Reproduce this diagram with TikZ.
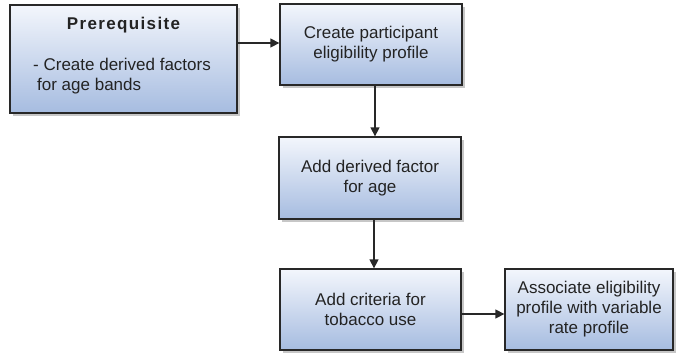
\documentclass[tikz,border=0pt]{standalone}
\usepackage{fontspec}
\setmainfont{Liberation Sans}
\newfontfamily\titlefont{Liberation Sans}[LetterSpace=8]
\usetikzlibrary{arrows.meta,shadows}
\definecolor{boxtop}{RGB}{243,246,252}
\definecolor{boxbot}{RGB}{166,188,224}
\definecolor{edge}{RGB}{40,40,40}
\definecolor{ink}{RGB}{35,35,35}

\begin{document}
\begin{tikzpicture}[x=1pt,y=-1pt,>={Triangle[length=9pt,width=9pt]},
  stepbox/.style={draw=edge,line width=1.3pt,top color=boxtop,bottom color=boxbot,
    drop shadow={shadow xshift=2.5pt,shadow yshift=-2.5pt,fill=black,opacity=0.22},
    align=center,text=ink,inner sep=0pt,font=\fontsize{17}{20}\selectfont},
  boxtext/.style={text=ink,inner sep=0pt,font=\fontsize{17}{20}\selectfont},
  link/.style={->,draw=edge,line width=1.3pt}]
  \useasboundingbox (0,0) rectangle (679,356);
  % prerequisite box
  \node[stepbox,minimum width=227pt,minimum height=108pt] (pre) at (123.5,59) {};
  \node[boxtext,anchor=base] (pretitle) at (123.5,29) {\titlefont\bfseries Prerequisite};
  \node[boxtext,anchor=base west,align=left] (prebody) at (33,90)
    {- Create derived factors\\\hspace*{4pt}for age bands};
  % steps
  \node[stepbox,minimum width=182pt,minimum height=81pt] (create) at (371,44.5)
    {Create participant\\eligibility profile};
  \node[stepbox,minimum width=182pt,minimum height=82pt] (derive) at (370,178)
    {Add derived factor\\for age};
  \node[stepbox,minimum width=181pt,minimum height=81pt] (tobacco) at (370.5,309.5)
    {Add criteria for\\tobacco use};
  \node[stepbox,minimum width=168pt,minimum height=81pt] (assoc) at (589,309.5)
    {Associate eligibility\\profile with variable\\rate profile};
  % connectors
  \draw[link] ([yshift=1.5pt]pre.east |- create.west) -- ([yshift=1.5pt]create.west);
  \draw[link] ([xshift=4pt]create.south) -- ([xshift=4pt]create.south |- derive.north);
  \draw[link] ([xshift=4pt]derive.south) -- ([xshift=4pt]derive.south |- tobacco.north);
  \draw[link] ([yshift=-4.5pt]tobacco.east) -- ([yshift=-4.5pt]assoc.west);
\end{tikzpicture}
\end{document}
